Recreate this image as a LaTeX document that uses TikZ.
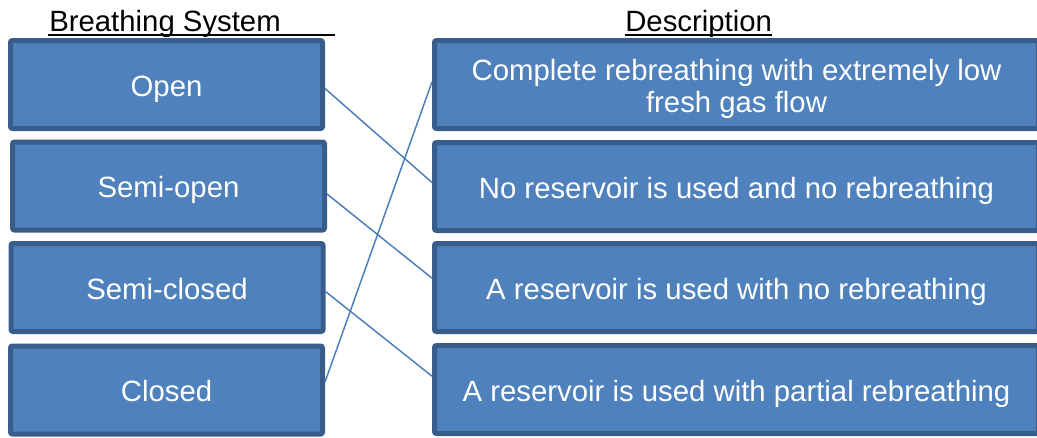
\documentclass[tikz,border=0pt]{standalone}
\usepackage{fontspec}
\setmainfont{Liberation Sans}
\usetikzlibrary{calc}
\usetikzlibrary{positioning}
\definecolor{boxfill}{HTML}{4F81BD}
\definecolor{boxline}{HTML}{385D8A}
\definecolor{linkline}{HTML}{4A7EBB}
\tikzstyle{sysnode} = [draw=boxline, fill=boxfill, line width=3.75pt, rounded corners=1.5pt, text=white, font=\fontsize{22}{24}\selectfont, minimum width=234pt, minimum height=66pt, align=center, inner sep=0pt, text height=19pt, text depth=1.75pt]
\tikzstyle{descnode} = [sysnode, minimum width=453pt]
\tikzstyle{headnode} = [font=\fontsize{22}{24}\selectfont, inner sep=0pt, anchor=base west]
\tikzstyle{link} = [draw=linkline, line width=1.1pt]

\begin{document}
\begin{tikzpicture}[x=0.75pt, y=-0.75pt]
    \useasboundingbox (0,0) rectangle (1037,437);

    \node[headnode] (head_sys) at (49,31.5) {Breathing System};
    \node[headnode] (head_desc) at (625,31.5) {Description};
    \draw[line width=1.5pt] ($(head_sys.base west)+(-1,3.5)$) -- ++(287,0);
    \draw[line width=1.5pt] ($(head_desc.base west)+(0,3.5)$) -- ($(head_desc.base east)+(0,3.5)$);

    \node[sysnode] (sys_open) at (166.5,84.5) {Open};
    \node[sysnode] (sys_semiopen) at ($(sys_open)+(2,101.5)$) {Semi-open};
    \node[sysnode] (sys_semiclosed) at ($(sys_open)+(0.5,203)$) {Semi-closed};
    \node[sysnode] (sys_closed) at ($(sys_open)+(0,305.5)$) {Closed};

    \node[descnode, text height=43pt] (desc_complete) at (736.5,84.5)
{Complete rebreathing with extremely low\\fresh gas flow};
    \node[descnode] (desc_none) at ($(desc_complete)+(0,102)$)
{No reservoir is used and no rebreathing};
    \node[descnode] (desc_norebr) at ($(desc_complete)+(0,203)$)
{A reservoir is used with no rebreathing};
    \node[descnode] (desc_partial) at ($(desc_complete)+(0,305)$)
{A reservoir is used with partial rebreathing};

    \draw[link] ([yshift=-3]sys_open.east) -- ([yshift=3]desc_none.west);
    \draw[link] ([yshift=-6]sys_semiopen.east) -- ([yshift=7]desc_norebr.west);
    \draw[link] ([yshift=-3]sys_semiclosed.east) -- ([yshift=10]desc_partial.west);
    \draw[link] ([yshift=6]sys_closed.east) -- ([yshift=2]desc_complete.west);
\end{tikzpicture}
\end{document}
